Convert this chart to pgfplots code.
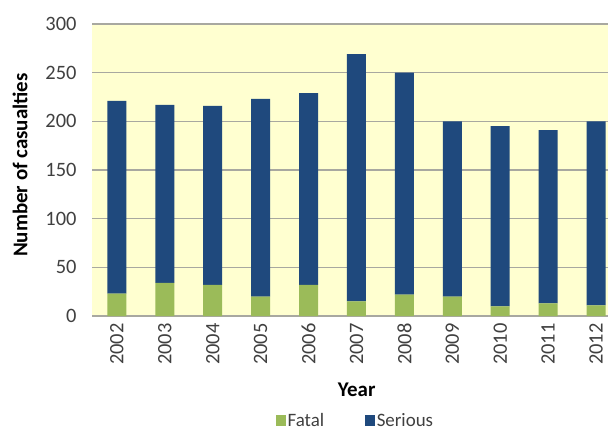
\documentclass[border=0pt]{standalone}
\usepackage{fontspec}
\setmainfont{Carlito}
\usepackage{pgfplots}
\pgfplotsset{compat=1.18}
\definecolor{fatalc}{HTML}{9BBB59}
\definecolor{seriousc}{HTML}{1F497D}
\definecolor{bgc}{HTML}{FFFFD0}
\definecolor{gridc}{HTML}{A8A8A0}
\definecolor{txt}{HTML}{404040}
\begin{document}
\begin{tikzpicture}[x=1bp,y=1bp]
\useasboundingbox (0,0) rectangle (608,432);
\begin{axis}[
  at={(92bp,116bp)}, anchor=south west,
  scale only axis, width=516bp, height=292bp,
  ybar stacked, bar width=19bp,
  xmin=-0.52, xmax=10.25, ymin=0, ymax=300,
  xtick={0,...,10},
  xticklabels={2002,2003,2004,2005,2006,2007,2008,2009,2010,2011,2012},
  ytick={0,50,...,300},
  major tick length=0pt,
  axis x line*=bottom, axis y line*=left,
  x axis line style={draw=gridc, line width=1.2bp, -},
  y axis line style={draw=none},
  ymajorgrids, grid style={draw=gridc, line width=1.2bp},
  axis background/.style={fill=bgc},
  /pgf/number format/assume math mode=true,
  tick label style={font=\fontsize{20.5}{24}\selectfont, text=txt},
  xticklabel style={rotate=90, anchor=east, xshift=-4bp},
  yticklabel style={xshift=-12bp},
  xlabel={Year}, ylabel={Number of casualties},
  xlabel style={font=\bfseries\fontsize{21}{24}\selectfont, text=black, at={(axis description cs:0.513,-0.253)}, anchor=center},
  ylabel style={font=\bfseries\fontsize{21}{24}\selectfont, text=black, at={(axis description cs:-0.1395,0.517)}, anchor=center},
  legend style={at={(axis description cs:0.51,-0.357)}, anchor=center, draw=none, fill=none, legend columns=2,
    font=\fontsize{19}{22}\selectfont, text=txt, nodes={inner sep=1.5bp},
    /tikz/every even column/.append style={column sep=39bp}},
  legend image code/.code={\fill[#1] (0bp,-5.5bp) rectangle (10.5bp,5.5bp);},
  legend cell align=left,
]
\addplot[fill=fatalc, draw=none] coordinates {(0,23) (1,34) (2,32) (3,20) (4,32) (5,15) (6,22) (7,20) (8,10) (9,13) (10,11)};
\addlegendentry{Fatal}
\addplot[fill=seriousc, draw=none] coordinates {(0,198) (1,183) (2,184) (3,203) (4,197) (5,254) (6,228) (7,180) (8,185) (9,178) (10,189)};
\addlegendentry{Serious}
\end{axis}
\end{tikzpicture}
\end{document}
